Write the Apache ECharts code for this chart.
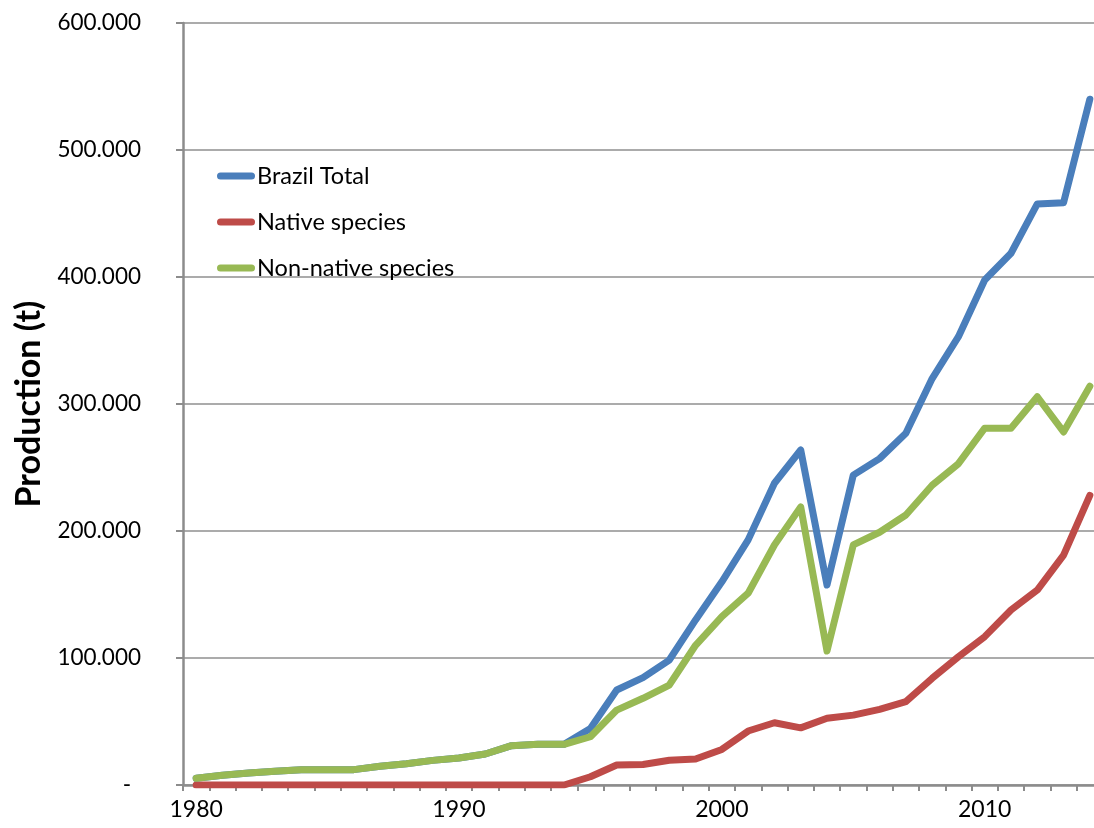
<!DOCTYPE html>
<html>
<head>
<meta charset="utf-8">
<title>Production (t)</title>
<script src="https://cdn.jsdelivr.net/npm/echarts@6/dist/echarts.min.js"></script>
<style>
  html, body { margin: 0; padding: 0; background: #ffffff; overflow: hidden; }
  /* The plot runs slightly past the right edge of the window */
  #chart { width: 1103px; height: 828px; }
</style>
</head>
<body>
<div id="chart"></div>
<script>
// Years on the category axis
const years = [
  1980, 1981, 1982, 1983, 1984, 1985, 1986, 1987, 1988, 1989,
  1990, 1991, 1992, 1993, 1994, 1995, 1996, 1997, 1998, 1999,
  2000, 2001, 2002, 2003, 2004, 2005, 2006, 2007, 2008, 2009,
  2010, 2011, 2012, 2013, 2014
];

// Aquaculture production in tonnes
const brazilTotal = [
  5300, 7600, 9400, 10800, 12100, 12100, 12100, 14700, 16800, 19400,
  21300, 24400, 31000, 32000, 32000, 44500, 74800, 84500, 98400, 130000,
  160000, 193000, 237600, 263800, 157500, 244000, 257000, 277000, 320000, 353000,
  397600, 418700, 457500, 458500, 540000
];
const nativeSpecies = [
  0, 0, 0, 0, 0, 0, 0, 0, 0, 0,
  0, 0, 0, 0, 0, 6500, 15800, 16200, 19500, 20500,
  28000, 42500, 49000, 45000, 52500, 55000, 59600, 65600, 84000, 101000,
  116800, 137800, 153500, 181000, 228000
];
const nonNativeSpecies = [
  5300, 7600, 9400, 10800, 12100, 12100, 12100, 14700, 16800, 19400,
  21300, 24400, 31000, 32000, 32000, 38000, 59000, 68300, 78700, 110000,
  132500, 151000, 189000, 219000, 105500, 189000, 199000, 212600, 236000, 253000,
  281000, 281000, 305700, 278000, 314000
];

const seriesNames = ['Brazil Total', 'Native species', 'Non-native species'];
const seriesColors = ['#4A7EBB', '#BE4B48', '#98B954'];

const FONT = 'Lato, "Open Sans", sans-serif';

// Rounded bar used as the legend key
const legendIcon = 'path://M3.5,0 H34.5 A3.5,3.5 0 0 1 34.5,7 H3.5 A3.5,3.5 0 0 1 3.5,0 Z';

function yLabel(v) {
  if (v === 0) return '{dash|-}';
  return (v / 1000).toFixed(0) + '.000';
}

function lineSeries(name, data, color) {
  return {
    name: name,
    type: 'line',
    data: data,
    symbol: 'none',
    smooth: false,
    color: color,
    lineStyle: { width: 7, color: color, cap: 'round', join: 'round' },
    emphasis: { disabled: true },
    animation: false
  };
}

const chart = echarts.init(document.getElementById('chart'), null, { renderer: 'canvas' });

chart.setOption({
  backgroundColor: '#ffffff',
  animation: false,
  textStyle: { fontFamily: FONT },
  grid: { left: 183, right: 0, top: 23, bottom: 43, containLabel: false },
  legend: {
    orient: 'vertical',
    left: 212,
    top: 159,
    itemWidth: 38,
    itemHeight: 7,
    itemGap: 22,
    icon: legendIcon,
    selectedMode: false,
    data: seriesNames,
    textStyle: { fontFamily: FONT, fontSize: 23.5, color: '#000000', lineHeight: 23.5, padding: [0, 0, 0, -3] }
  },
  xAxis: {
    type: 'category',
    data: years,
    boundaryGap: true,
    axisLine: { show: true, lineStyle: { color: '#8C8C8C', width: 2.5 } },
    axisTick: { show: true, interval: 0, alignWithLabel: false, length: 6, lineStyle: { color: '#8C8C8C', width: 2 } },
    axisLabel: { interval: 9, margin: 13, fontSize: 23, color: '#000000', fontFamily: FONT },
    splitLine: { show: false }
  },
  yAxis: {
    type: 'value',
    min: 0,
    max: 600000,
    interval: 100000,
    name: 'Production (t)',
    nameLocation: 'middle',
    nameGap: 137,
    nameRotate: 90,
    nameTextStyle: { fontFamily: FONT, fontSize: 34, fontWeight: 'bold', color: '#000000' },
    axisLine: { show: true, lineStyle: { color: '#8C8C8C', width: 2.5 } },
    axisTick: { show: true, length: 7, lineStyle: { color: '#8C8C8C', width: 2 } },
    axisLabel: {
      margin: 42,
      fontSize: 22.5,
      color: '#000000',
      fontFamily: FONT,
      formatter: yLabel,
      rich: { dash: { fontSize: 22.5, fontFamily: FONT, color: '#000000', padding: [0, 10, 0, 0] } }
    },
    splitLine: { show: true, lineStyle: { color: '#ABABAB', width: 2 } }
  },
  series: [
    lineSeries(seriesNames[0], brazilTotal, seriesColors[0]),
    lineSeries(seriesNames[1], nativeSpecies, seriesColors[1]),
    lineSeries(seriesNames[2], nonNativeSpecies, seriesColors[2])
  ]
});
</script>
</body>
</html>
